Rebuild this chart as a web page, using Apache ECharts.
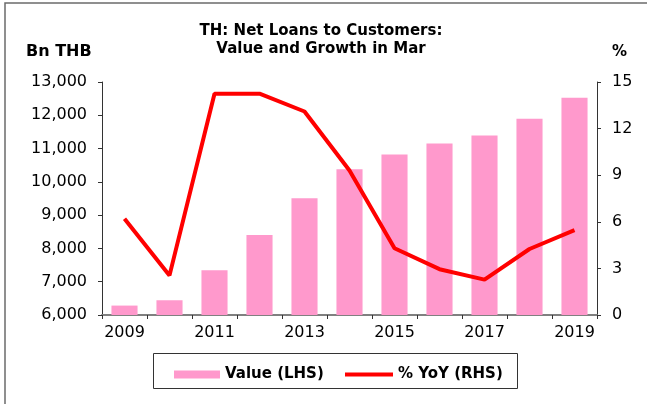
<!DOCTYPE html>
<html>
<head>
<meta charset="utf-8">
<script src="https://cdn.jsdelivr.net/npm/echarts@6/dist/echarts.min.js"></script>
<style>
html,body{margin:0;padding:0;background:#fff;}
#chart{width:647px;height:404px;}
</style>
</head>
<body>
<div id="chart"></div>
<script>
var categories = ['2009','2010','2011','2012','2013','2014','2015','2016','2017','2018','2019'];
var valueLHS = [6283, 6443, 7346, 8400, 9506, 10380, 10819, 11150, 11392, 11895, 12527];
var yoyRHS = [6.2, 2.55, 14.25, 14.25, 13.1, 9.3, 4.3, 2.95, 2.28, 4.25, 5.47];
var leftTicks = {min: 6000, max: 13000, interval: 1000};
var rightTicks = {min: 0, max: 15, interval: 3};

var FONT = 'DejaVu Sans';
var chart = echarts.init(document.getElementById('chart'), null, {renderer: 'canvas'});
chart.setOption({
  animation: false,
  backgroundColor: '#ffffff',
  title: {
    text: 'TH: Net Loans to Customers:\nValue and Growth in Mar',
    left: 316, top: 17, textAlign: 'center',
    textStyle: {fontFamily: FONT, fontWeight: 'bold', fontSize: 15, lineHeight: 18, color: '#000'}
  },
  graphic: [
    {type: 'polyline', shape: {points: [[5, 410], [5, 3], [660, 3]]}, style: {stroke: '#6b6b6b', lineWidth: 1.5, fill: null}},
    {type: 'text', left: 26, top: 44, style: {text: 'Bn THB', font: 'bold 16px "DejaVu Sans"', fill: '#000'}},
    {type: 'text', left: 612, top: 45, style: {text: '%', font: 'bold 15px "DejaVu Sans"', fill: '#000'}},
    {type: 'rect', shape: {x: 153.5, y: 353.5, width: 364, height: 35}, style: {fill: null, stroke: '#333', lineWidth: 1}}
  ],
  legend: [
    {data: ['Value (LHS)'], left: 169, top: 362, icon: 'rect', itemWidth: 46, itemHeight: 8,
     textStyle: {fontFamily: FONT, fontWeight: 'bold', fontSize: 15, color: '#000'}},
    {data: ['% YoY (RHS)'], left: 340, top: 362, icon: 'rect', itemWidth: 48, itemHeight: 4,
     textStyle: {fontFamily: FONT, fontWeight: 'bold', fontSize: 15, color: '#000'}}
  ],
  grid: {left: 102, right: 50, top: 82, bottom: 89, containLabel: false},
  xAxis: {
    type: 'category', data: categories, boundaryGap: true,
    axisLine: {lineStyle: {color: '#808080', width: 2}},
    axisTick: {show: true, length: 4, alignWithLabel: false, interval: 0, lineStyle: {color: '#333'}},
    axisLabel: {interval: 1, margin: 10, fontFamily: FONT, fontSize: 16, color: '#000'}
  },
  yAxis: [
    {type: 'value', min: leftTicks.min, max: leftTicks.max, interval: leftTicks.interval,
     axisLine: {show: true, lineStyle: {color: '#333'}},
     axisTick: {show: true, length: 4, lineStyle: {color: '#333'}},
     splitLine: {show: false},
     axisLabel: {margin: 15, fontFamily: FONT, fontSize: 16, color: '#000',
       formatter: function (v) { return v.toLocaleString('en-US'); }}},
    {type: 'value', min: rightTicks.min, max: rightTicks.max, interval: rightTicks.interval, position: 'right',
     axisLine: {show: true, lineStyle: {color: '#333'}},
     axisTick: {show: true, length: 4, lineStyle: {color: '#333'}},
     splitLine: {show: false},
     axisLabel: {margin: 15, fontFamily: FONT, fontSize: 16, color: '#000'}}
  ],
  series: [
    {name: 'Value (LHS)', type: 'bar', yAxisIndex: 0, data: valueLHS, barWidth: '58%',
     itemStyle: {color: '#FF99CC'}},
    {name: '% YoY (RHS)', type: 'line', yAxisIndex: 1, data: yoyRHS, showSymbol: false, symbol: 'none',
     lineStyle: {color: '#FF0000', width: 4}, itemStyle: {color: '#FF0000'}}
  ]
});
</script>
</body>
</html>
